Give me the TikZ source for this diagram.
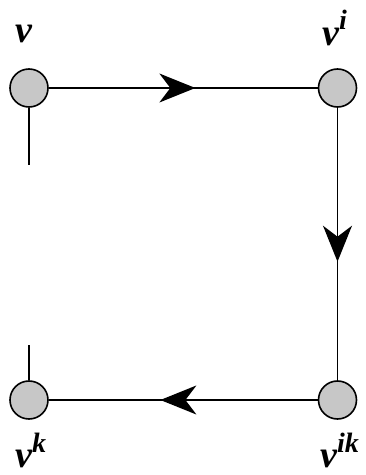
\documentclass[tikz,border=0pt]{standalone}
\usepackage{fontspec}
\setmainfont{Liberation Serif}
\usetikzlibrary{arrows.meta,decorations.markings}
\newcommand{\supx}[1]{\raisebox{16pt}{\fontsize{28}{32}\selectfont #1}}
\begin{document}
\begin{tikzpicture}[x=1pt,y=1pt,
  vert/.style={circle,draw=black,line width=1.6pt,fill=black!22,minimum size=38pt,inner sep=0pt},
  lbl/.style={inner sep=0pt,anchor=base west,font=\fontsize{38}{44}\selectfont\bfseries\itshape},
  conn/.style={line width=1.4pt},
  midarrow/.style={postaction={decorate},decoration={markings,
     mark=at position #1 with {\arrow{Stealth[length=36pt,width=29pt,inset=11pt]}}}}
]
\useasboundingbox (0,0) rectangle (365,475);
\node[vert] (v)   at (29,387) {};
\node[vert] (vi)  at (337.5,387) {};
\node[vert] (vk)  at (29,75) {};
\node[vert] (vik) at (337.5,75) {};
\coordinate (s1) at (29,310);
\coordinate (s2) at (29,130);
\draw[conn,midarrow=0.545] (v) -- (vi);
\draw[conn,midarrow=0.565] (vi) -- (vik);
\draw[conn,midarrow=0.585] (vik) -- (vk);
\draw[conn] (v) -- (s1);
\draw[conn] (vk) -- (s2);
\node[lbl] (lv)   at (15,432) {v};
\node[lbl] (lvi)  at (322,429) {v\supx{i}};
\node[lbl] (lvk)  at (15,7) {v\supx{k}};
\node[lbl] (lvik) at (320,7) {v\supx{ik}};
\end{tikzpicture}
\end{document}
